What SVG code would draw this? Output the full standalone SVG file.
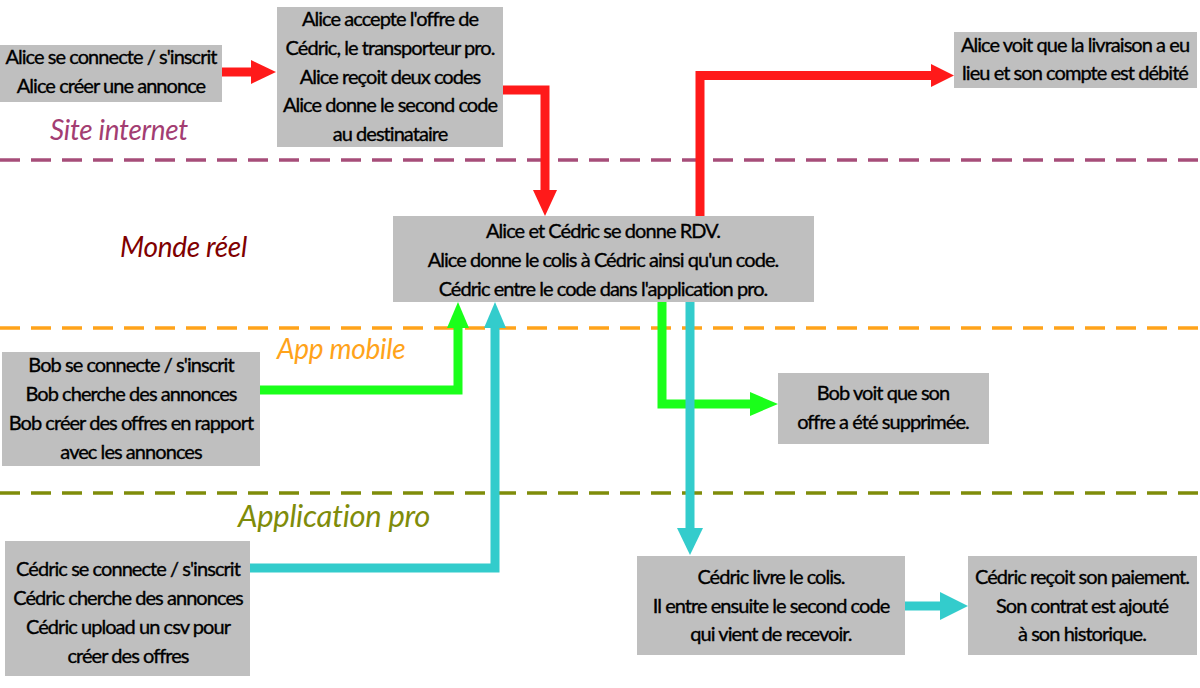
<svg xmlns="http://www.w3.org/2000/svg" width="1200" height="688" viewBox="0 0 1200 688">
<style>
.box{fill:#bfbfbf}
.t{font-family:Lato,"Liberation Sans",sans-serif;font-size:20px;fill:#000;stroke:#000;stroke-width:0.35px;text-anchor:middle;letter-spacing:-0.95px}
.lane{font-family:Lato,"Liberation Sans",sans-serif;font-style:italic;font-size:28px;letter-spacing:-0.3px}
.dash{stroke-width:3.5;stroke-dasharray:20 11;fill:none}
.red{stroke:#ff1a1a;stroke-width:9;fill:none}
.green{stroke:#1aff1a;stroke-width:9;fill:none}
.cyan{stroke:#33cccc;stroke-width:9;fill:none}
</style>
<rect width="1200" height="688" fill="#fff"/>
<g id="lanes">
<line class="dash" x1="0" y1="160" x2="1200" y2="160" stroke="#a64d79"/>
<line class="dash" x1="0" y1="328" x2="1200" y2="328" stroke="#ffa31a"/>
<line class="dash" x1="0" y1="493" x2="1200" y2="493" stroke="#7f8c0a"/>
<text class="lane" x="50" y="140" fill="#a33d72">Site internet</text>
<text class="lane" x="120" y="257" fill="#800000">Monde réel</text>
<text class="lane" x="277" y="359" fill="#ffa31a">App mobile</text>
<text class="lane" x="238" y="527" fill="#7f8c0a" style="font-size:31px">Application pro</text>
</g>
<g id="connectors">
<path class="red" d="M222 72H252"/>
<polygon fill="#ff1a1a" points="251,60 276,72 251,84"/>
<path class="red" d="M503 90H545V192"/>
<polygon fill="#ff1a1a" points="533,190 545,216 557,190"/>
<path class="red" d="M700 216V75.5H932"/>
<polygon fill="#ff1a1a" points="931,64 954,75.5 931,87"/>
<path class="green" d="M260 390H458V326"/>
<polygon fill="#1aff1a" points="447,328 458,302 469,328"/>
<path class="cyan" d="M250 568H495V326"/>
<polygon fill="#33cccc" points="484,328 495,302 506,328"/>
<path class="green" d="M662 302V404H752"/>
<polygon fill="#1aff1a" points="750,392 778,404 750,416"/>
<path class="cyan" d="M690 302V530"/>
<polygon fill="#33cccc" points="677,528 690,555 703,528"/>
<path class="cyan" d="M905 606H942"/>
<polygon fill="#33cccc" points="940,592 968,606 940,620"/>
</g>
<g id="n1"><rect class="box" x="0" y="45" width="222" height="57"/>
<text class="t" x="111" y="64">Alice se connecte / s'inscrit</text>
<text class="t" x="111" y="93">Alice créer une annonce</text></g>
<g id="n2"><rect class="box" x="277" y="7" width="226" height="140"/>
<text class="t" x="390" y="26">Alice accepte l'offre de</text>
<text class="t" x="390" y="55">Cédric, le transporteur pro.</text>
<text class="t" x="390" y="84">Alice reçoit deux codes</text>
<text class="t" x="390" y="112">Alice donne le second code</text>
<text class="t" x="390" y="141">au destinataire</text></g>
<g id="n3"><rect class="box" x="393" y="216" width="421" height="86"/>
<text class="t" x="603" y="238">Alice et Cédric se donne RDV.</text>
<text class="t" x="603" y="267">Alice donne le colis à Cédric ainsi qu'un code.</text>
<text class="t" x="603" y="296">Cédric entre le code dans l'application pro.</text></g>
<g id="n4"><rect class="box" x="954" y="32" width="243" height="56"/>
<text class="t" x="1075" y="52">Alice voit que la livraison a eu</text>
<text class="t" x="1075" y="80">lieu et son compte est débité</text></g>
<g id="n5"><rect class="box" x="2" y="352" width="258" height="114"/>
<text class="t" x="131" y="372">Bob se connecte / s'inscrit</text>
<text class="t" x="131" y="401">Bob cherche des annonces</text>
<text class="t" x="131" y="430">Bob créer des offres en rapport</text>
<text class="t" x="131" y="459">avec les annonces</text></g>
<g id="n6"><rect class="box" x="778" y="373" width="211" height="71"/>
<text class="t" x="883" y="400">Bob voit que son</text>
<text class="t" x="883" y="429">offre a été supprimée.</text></g>
<g id="n7"><rect class="box" x="5" y="541" width="245" height="135"/>
<text class="t" x="128" y="576">Cédric se connecte / s'inscrit</text>
<text class="t" x="128" y="605">Cédric cherche des annonces</text>
<text class="t" x="128" y="634">Cédric upload un csv pour</text>
<text class="t" x="128" y="663">créer des offres</text></g>
<g id="n8"><rect class="box" x="637" y="556" width="268" height="99"/>
<text class="t" x="771" y="584">Cédric livre le colis.</text>
<text class="t" x="771" y="613">Il entre ensuite le second code</text>
<text class="t" x="771" y="641">qui vient de recevoir.</text></g>
<g id="n9"><rect class="box" x="968" y="556" width="229" height="99"/>
<text class="t" x="1082" y="584">Cédric reçoit son paiement.</text>
<text class="t" x="1082" y="613">Son contrat est ajouté</text>
<text class="t" x="1082" y="641">à son historique.</text></g>
</svg>
